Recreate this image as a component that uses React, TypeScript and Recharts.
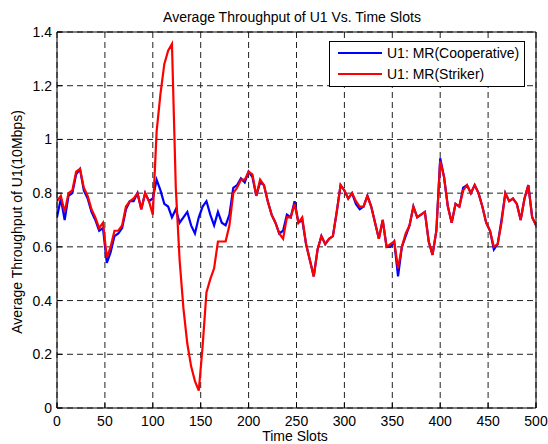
import React from "react";
import { LineChart, Line, XAxis, YAxis, CartesianGrid, Legend } from "recharts";

const timeSlots = [
  0, 4, 8, 12, 16, 20, 24, 28, 32, 36, 40, 44, 48, 52, 56, 60, 64, 68, 72, 76,
  80, 84, 88, 92, 96, 100, 104, 108, 112, 116, 120, 124, 128, 132, 136, 140, 144, 148, 152, 156,
  160, 164, 168, 172, 176, 180, 184, 188, 192, 196, 200, 204, 208, 212, 216, 220, 224, 228, 232, 236,
  240, 244, 248, 252, 256, 260, 264, 268, 272, 276, 280, 284, 288, 292, 296, 300, 304, 308, 312, 316,
  320, 324, 328, 332, 336, 340, 344, 348, 352, 356, 360, 364, 368, 372, 376, 380, 384, 388, 392, 396,
  400, 404, 408, 412, 416, 420, 424, 428, 432, 436, 440, 444, 448, 452, 456, 460, 464, 468, 472, 476,
  480, 484, 488, 492, 496, 500,
];

const cooperative = [
  0.71, 0.78, 0.70, 0.79, 0.80, 0.87, 0.89, 0.81, 0.78, 0.73, 0.70, 0.66, 0.67, 0.54, 0.58, 0.64, 0.65, 0.67, 0.74, 0.77,
  0.77, 0.80, 0.74, 0.80, 0.77, 0.78, 0.85, 0.81, 0.76, 0.75, 0.71, 0.74, 0.69, 0.71, 0.73, 0.68, 0.65, 0.71, 0.75, 0.77,
  0.72, 0.68, 0.73, 0.69, 0.68, 0.72, 0.82, 0.83, 0.855, 0.84, 0.88, 0.86, 0.79, 0.84, 0.83, 0.77, 0.72, 0.69, 0.65, 0.66,
  0.72, 0.71, 0.77, 0.69, 0.70, 0.61, 0.55, 0.49, 0.59, 0.64, 0.61, 0.63, 0.64, 0.73, 0.83, 0.81, 0.78, 0.80, 0.76, 0.74,
  0.75, 0.79, 0.75, 0.69, 0.63, 0.70, 0.60, 0.60, 0.62, 0.49, 0.60, 0.64, 0.68, 0.75, 0.71, 0.72, 0.73, 0.62, 0.57, 0.66,
  0.93, 0.86, 0.75, 0.69, 0.76, 0.75, 0.82, 0.83, 0.80, 0.83, 0.80, 0.75, 0.69, 0.66, 0.59, 0.61, 0.70, 0.80, 0.77, 0.78,
  0.76, 0.70, 0.78, 0.83, 0.71, 0.68,
];

const striker = [
  0.77, 0.79, 0.73, 0.80, 0.81, 0.88, 0.89, 0.82, 0.79, 0.74, 0.71, 0.67, 0.69, 0.56, 0.60, 0.66, 0.66, 0.68, 0.75, 0.77,
  0.78, 0.80, 0.74, 0.80, 0.77, 0.72, 1.03, 1.17, 1.28, 1.33, 1.355, 0.82, 0.55, 0.37, 0.24, 0.155, 0.10, 0.065, 0.23, 0.43,
  0.48, 0.52, 0.62, 0.62, 0.62, 0.68, 0.80, 0.82, 0.85, 0.85, 0.88, 0.87, 0.79, 0.85, 0.83, 0.77, 0.72, 0.69, 0.65, 0.63,
  0.71, 0.71, 0.76, 0.69, 0.71, 0.61, 0.55, 0.49, 0.59, 0.64, 0.61, 0.63, 0.64, 0.73, 0.83, 0.81, 0.78, 0.80, 0.77, 0.75,
  0.75, 0.79, 0.75, 0.69, 0.63, 0.70, 0.60, 0.61, 0.62, 0.52, 0.60, 0.65, 0.68, 0.75, 0.71, 0.72, 0.73, 0.62, 0.57, 0.66,
  0.92, 0.86, 0.75, 0.69, 0.76, 0.75, 0.81, 0.83, 0.80, 0.83, 0.80, 0.75, 0.69, 0.66, 0.60, 0.61, 0.69, 0.80, 0.77, 0.78,
  0.76, 0.70, 0.78, 0.83, 0.71, 0.68,
];

const xTicks = [0, 50, 100, 150, 200, 250, 300, 350, 400, 450, 500];
const yTicks = [0, 0.2, 0.4, 0.6, 0.8, 1, 1.2, 1.4];

const seriesNames = ["U1: MR(Cooperative)", "U1: MR(Striker)"];
const seriesColors = ["#0000FF", "#FF0000"];

const data = timeSlots.map((t, i) => ({ t, coop: cooperative[i], striker: striker[i] }));

const FONT = "'Liberation Sans', Arial, Helvetica, sans-serif";
const tickStyle = { fill: "#000", fontSize: 14, fontFamily: FONT };

const LegendBox = () => (
  <div
    style={{
      width: 196,
      height: 46,
      boxSizing: "border-box",
      border: "1px solid #000",
      background: "#fff",
    }}
  >
    <svg width={194} height={44} style={{ display: "block" }}>
      {seriesNames.map((name, i) => (
        <g key={name}>
          <line x1={8} x2={52} y1={11 + i * 21} y2={11 + i * 21} stroke={seriesColors[i]} strokeWidth={2} />
          <text x={57} y={16 + i * 21} fontSize={14} fontFamily={FONT} fill="#000">
            {name}
          </text>
        </g>
      ))}
    </svg>
  </div>
);

export default function App() {
  return (
    <div style={{ position: "absolute", left: 0, top: 0, width: 548, height: 444, background: "#fff" }}>
      <LineChart
        width={548}
        height={444}
        data={data}
        margin={{ top: 31, right: 11, bottom: 12, left: 17 }}
      >
        <CartesianGrid stroke="#222" strokeDasharray="6 4" strokeWidth={1} />
        <XAxis
          dataKey="t"
          type="number"
          domain={[0, 500]}
          ticks={xTicks}
          tickSize={-5}
          tickMargin={13}
          height={24}
          stroke="#000"
          tick={tickStyle}
          interval={0}
          allowDataOverflow
        />
        <XAxis
          xAxisId="top"
          orientation="top"
          type="number"
          domain={[0, 500]}
          ticks={xTicks}
          tickSize={-5}
          height={1}
          stroke="#000"
          tick={false}
          interval={0}
        />
        <YAxis
          type="number"
          domain={[0, 1.4]}
          ticks={yTicks}
          tickSize={-5}
          tickMargin={10}
          width={40}
          stroke="#000"
          tick={tickStyle}
          interval={0}
          allowDataOverflow
        />
        <YAxis
          yAxisId="r"
          orientation="right"
          type="number"
          domain={[0, 1.4]}
          ticks={yTicks}
          tickSize={-5}
          width={1}
          stroke="#000"
          tick={false}
          interval={0}
        />
        <Legend
          layout="horizontal"
          verticalAlign="middle"
          align="center"
          content={() => <LegendBox />}
          wrapperStyle={{ left: 329, top: 41, width: 196, height: 46 }}
        />
        <Line
          type="linear"
          dataKey="coop"
          name={seriesNames[0]}
          stroke={seriesColors[0]}
          strokeWidth={2.2}
          dot={false}
          isAnimationActive={false}
        />
        <Line
          type="linear"
          dataKey="striker"
          name={seriesNames[1]}
          stroke={seriesColors[1]}
          strokeWidth={2.2}
          dot={false}
          isAnimationActive={false}
        />
      </LineChart>
      <svg
        width={548}
        height={444}
        style={{ position: "absolute", left: 0, top: 0, pointerEvents: "none" }}
      >
        <text x={292} y={22} textAnchor="middle" fontSize={14} fontFamily={FONT} fill="#000">
          Average Throughput of U1 Vs. Time Slots
        </text>
        <text
          x={22}
          y={222}
          textAnchor="middle"
          fontSize={14}
          fontFamily={FONT}
          fill="#000"
          transform="rotate(-90, 22, 222)"
        >
          Average Throughput of U1(10Mbps)
        </text>
        <text x={295} y={441} textAnchor="middle" fontSize={14} fontFamily={FONT} fill="#000">
          Time Slots
        </text>
      </svg>
    </div>
  );
}
